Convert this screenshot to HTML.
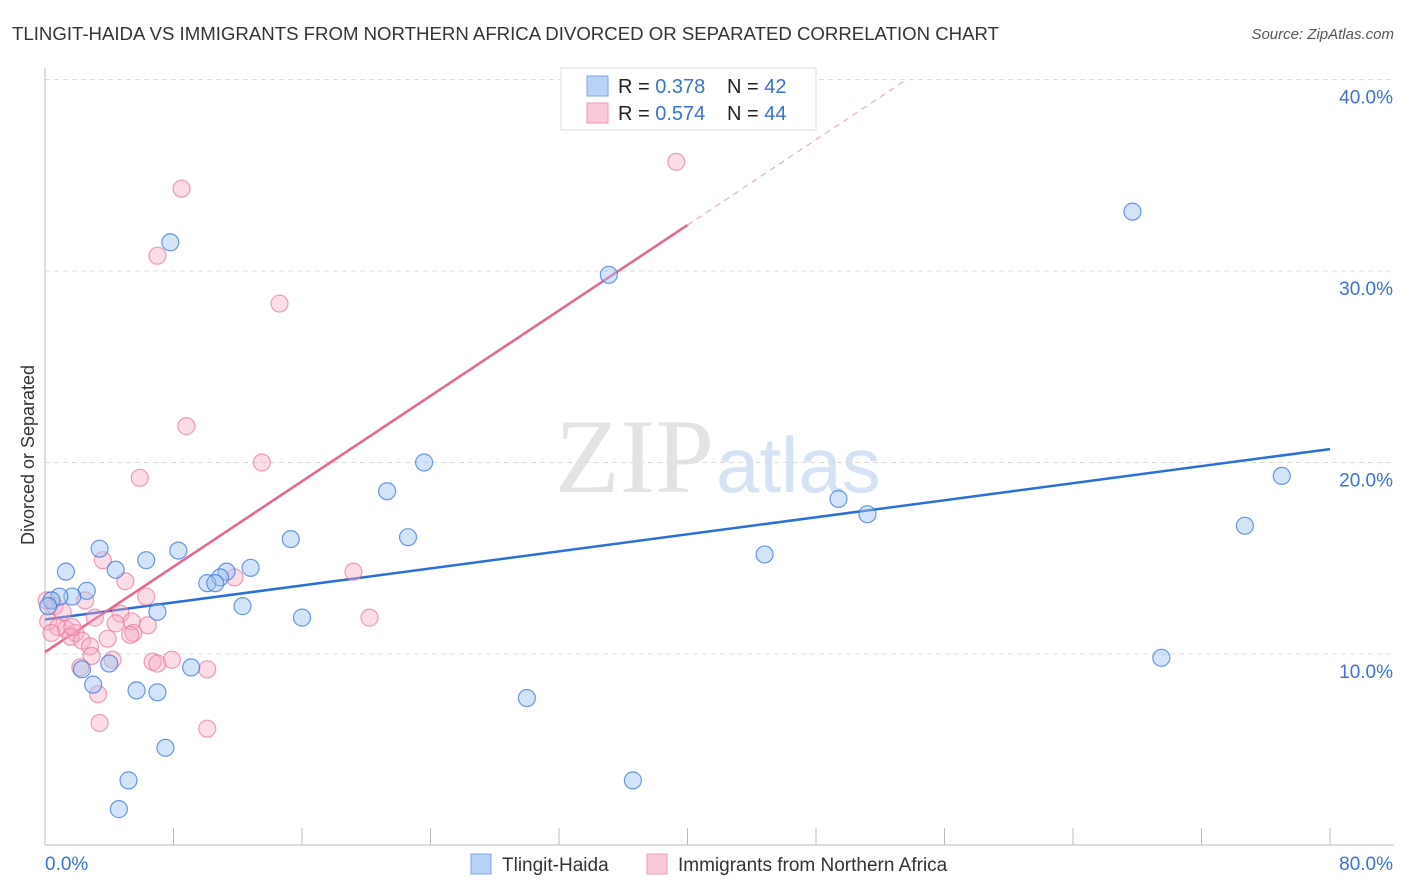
<!DOCTYPE html>
<html><head><meta charset="utf-8"><style>
body{margin:0;background:#fff;font-family:"Liberation Sans",sans-serif;}
svg{display:block}
</style></head><body>
<svg id="chart" width="1406" height="892" xmlns="http://www.w3.org/2000/svg" font-family="Liberation Sans, sans-serif">
<text x="12" y="40" font-size="18" fill="#333" textLength="987" lengthAdjust="spacingAndGlyphs">TLINGIT-HAIDA VS IMMIGRANTS FROM NORTHERN AFRICA DIVORCED OR SEPARATED CORRELATION CHART</text>
<text x="1394" y="39" font-size="15" fill="#555" text-anchor="end" font-style="italic">Source: ZipAtlas.com</text>
<text x="714" y="492" font-size="106" fill="#e3e3e3" text-anchor="end" font-family="Liberation Serif, serif">ZIP</text>
<text x="716" y="492" font-size="78" fill="#d4e2f4">atlas</text>
<g id="grid"></g>
<g id="axes"></g>
<g id="lines"></g>
<g id="points"></g>
<text transform="translate(34,455) rotate(-90)" font-size="18" fill="#333" text-anchor="middle">Divorced or Separated</text>
<g>
<rect x="561" y="68" width="255" height="62" fill="#fff" stroke="#ddd"/>
<rect x="587" y="76" width="21" height="20" fill="#b8d3f5" stroke="#7aa7e6"/>
<text x="618" y="93" font-size="20" fill="#222">R = <tspan fill="#3a72d0">0.378</tspan><tspan x="727">N = </tspan><tspan fill="#3a72d0">42</tspan></text>
<rect x="587" y="103" width="21" height="20" fill="#f9c9d7" stroke="#ee9ab4"/>
<text x="618" y="120" font-size="20" fill="#222">R = <tspan fill="#3a72d0">0.574</tspan><tspan x="727">N = </tspan><tspan fill="#3a72d0">44</tspan></text>
</g>
<g>
<rect x="471" y="854" width="20" height="20" fill="#b8d3f5" stroke="#7aa7e6"/>
<text x="502" y="871" font-size="19" fill="#333">Tlingit-Haida</text>
<rect x="647" y="854" width="20" height="20" fill="#f9c9d7" stroke="#ee9ab4"/>
<text x="678" y="871" font-size="19" fill="#333">Immigrants from Northern Africa</text>
</g>
</svg>
<script>
const blueX=[7.8,67.7,35.1,23.6,21.3,49.4,51.2,77.0,74.7,3.4,8.3,15.3,22.6,44.8,6.3,1.3,4.4,12.8,11.3,10.9,10.1,10.6,2.6,1.7,0.9,0.4,0.2,12.3,7.0,16.0,4.0,2.3,9.1,3.0,5.7,7.0,30.0,69.5,7.5,5.2,36.6,4.6];
const blueY=[31.5,33.1,29.8,20.0,18.5,18.1,17.3,19.3,16.7,15.5,15.4,16.0,16.1,15.2,14.9,14.3,14.4,14.5,14.3,14.0,13.7,13.7,13.3,13.0,13.0,12.8,12.5,12.5,12.2,11.9,9.5,9.2,9.3,8.4,8.1,8.0,7.7,9.8,5.1,3.4,3.4,1.9];
const pinkX=[39.3,8.5,7.0,14.6,8.8,13.5,5.9,3.6,19.2,11.8,5.0,6.3,2.5,0.6,4.7,3.1,5.4,6.4,20.2,0.2,0.8,1.3,1.9,0.4,1.6,2.3,3.9,5.5,5.3,2.8,2.9,4.2,6.7,7.0,7.9,10.1,2.2,3.3,3.4,10.1,1.1,1.7,0.1,4.4];
const pinkY=[35.7,34.3,30.8,28.3,21.9,20.0,19.2,14.9,14.3,14.0,13.8,13.0,12.8,12.5,12.1,11.9,11.7,11.5,11.9,11.7,11.4,11.3,11.1,11.1,10.9,10.7,10.8,11.1,11.0,10.4,9.9,9.7,9.6,9.5,9.7,9.2,9.3,7.9,6.4,6.1,12.2,11.4,12.8,11.6];
const yTicks=[10,20,30,40];
const yTickLabels=["10.0%","20.0%","30.0%","40.0%"];
const xTicks=[8,16,24,32,40,48,56,64,72,80];
const blueTrend=[11.8,20.7];
const pinkTrend=[10.1,32.4];
const NS="http://www.w3.org/2000/svg";
const sx=v=>45+v/80*1285;
const sy=v=>845.5-v*19.15;
function mk(tag,attrs,parent){const e=document.createElementNS(NS,tag);for(const k in attrs)e.setAttribute(k,attrs[k]);document.getElementById(parent).appendChild(e);return e;}
yTicks.forEach((t,i)=>{
 const l=mk('line',{x1:45,x2:1394,y1:sy(t),y2:sy(t),stroke:'#ddd','stroke-dasharray':'5,4'},'grid');
 
 
 const tx=mk('text',{x:1393,y:sy(t)+24,'font-size':19,fill:'#3a72d0','text-anchor':'end'},'grid');
 tx.textContent=yTickLabels[i];
 
 
});
let a=mk('line',{x1:45,x2:45,y1:68,y2:845,stroke:'#bbb'},'axes');


a=mk('line',{x1:45,x2:1394,y1:845,y2:845,stroke:'#bbb'},'axes');


xTicks.forEach(t=>{const l=mk('line',{x1:sx(t),x2:sx(t),y1:828,y2:845,stroke:'#bbb'},'axes');
 
 });
let t=mk('text',{x:45,y:870,'font-size':19,fill:'#3a72d0'},'axes');t.textContent='0.0%';


t=mk('text',{x:1393,y:870,'font-size':19,fill:'#3a72d0','text-anchor':'end'},'axes');t.textContent='80.0%';


function pts(xs,ys,fill,stroke,name){xs.forEach((x,i)=>{const c=mk('circle',{cx:sx(x),cy:sy(ys[i]),r:8.5,fill:fill,stroke:stroke,'stroke-width':1.2},'points');
 
 });}
pts(pinkX,pinkY,'rgba(246,170,195,0.4)','rgba(232,120,155,0.7)','immigrants-point');
pts(blueX,blueY,'rgba(160,195,240,0.45)','rgba(60,120,215,0.75)','tlingit-point');
let ln=mk('line',{x1:sx(0),y1:sy(blueTrend[0]),x2:sx(80),y2:sy(blueTrend[1]),stroke:'#2a6fd6','stroke-width':2.5},'lines');


const ps=(pinkTrend[1]-pinkTrend[0])/40;
const xEnd=(40-pinkTrend[0])/ps;
ln=mk('line',{x1:sx(0),y1:sy(pinkTrend[0]),x2:sx(40),y2:sy(pinkTrend[1]),stroke:'#e8638e','stroke-width':2.5},'lines');


ln=mk('line',{x1:sx(40),y1:sy(pinkTrend[1]),x2:sx(xEnd),y2:sy(40),stroke:'#eaa0b8','stroke-width':1,'stroke-dasharray':'6,5'},'lines');


</script>
</body></html>
